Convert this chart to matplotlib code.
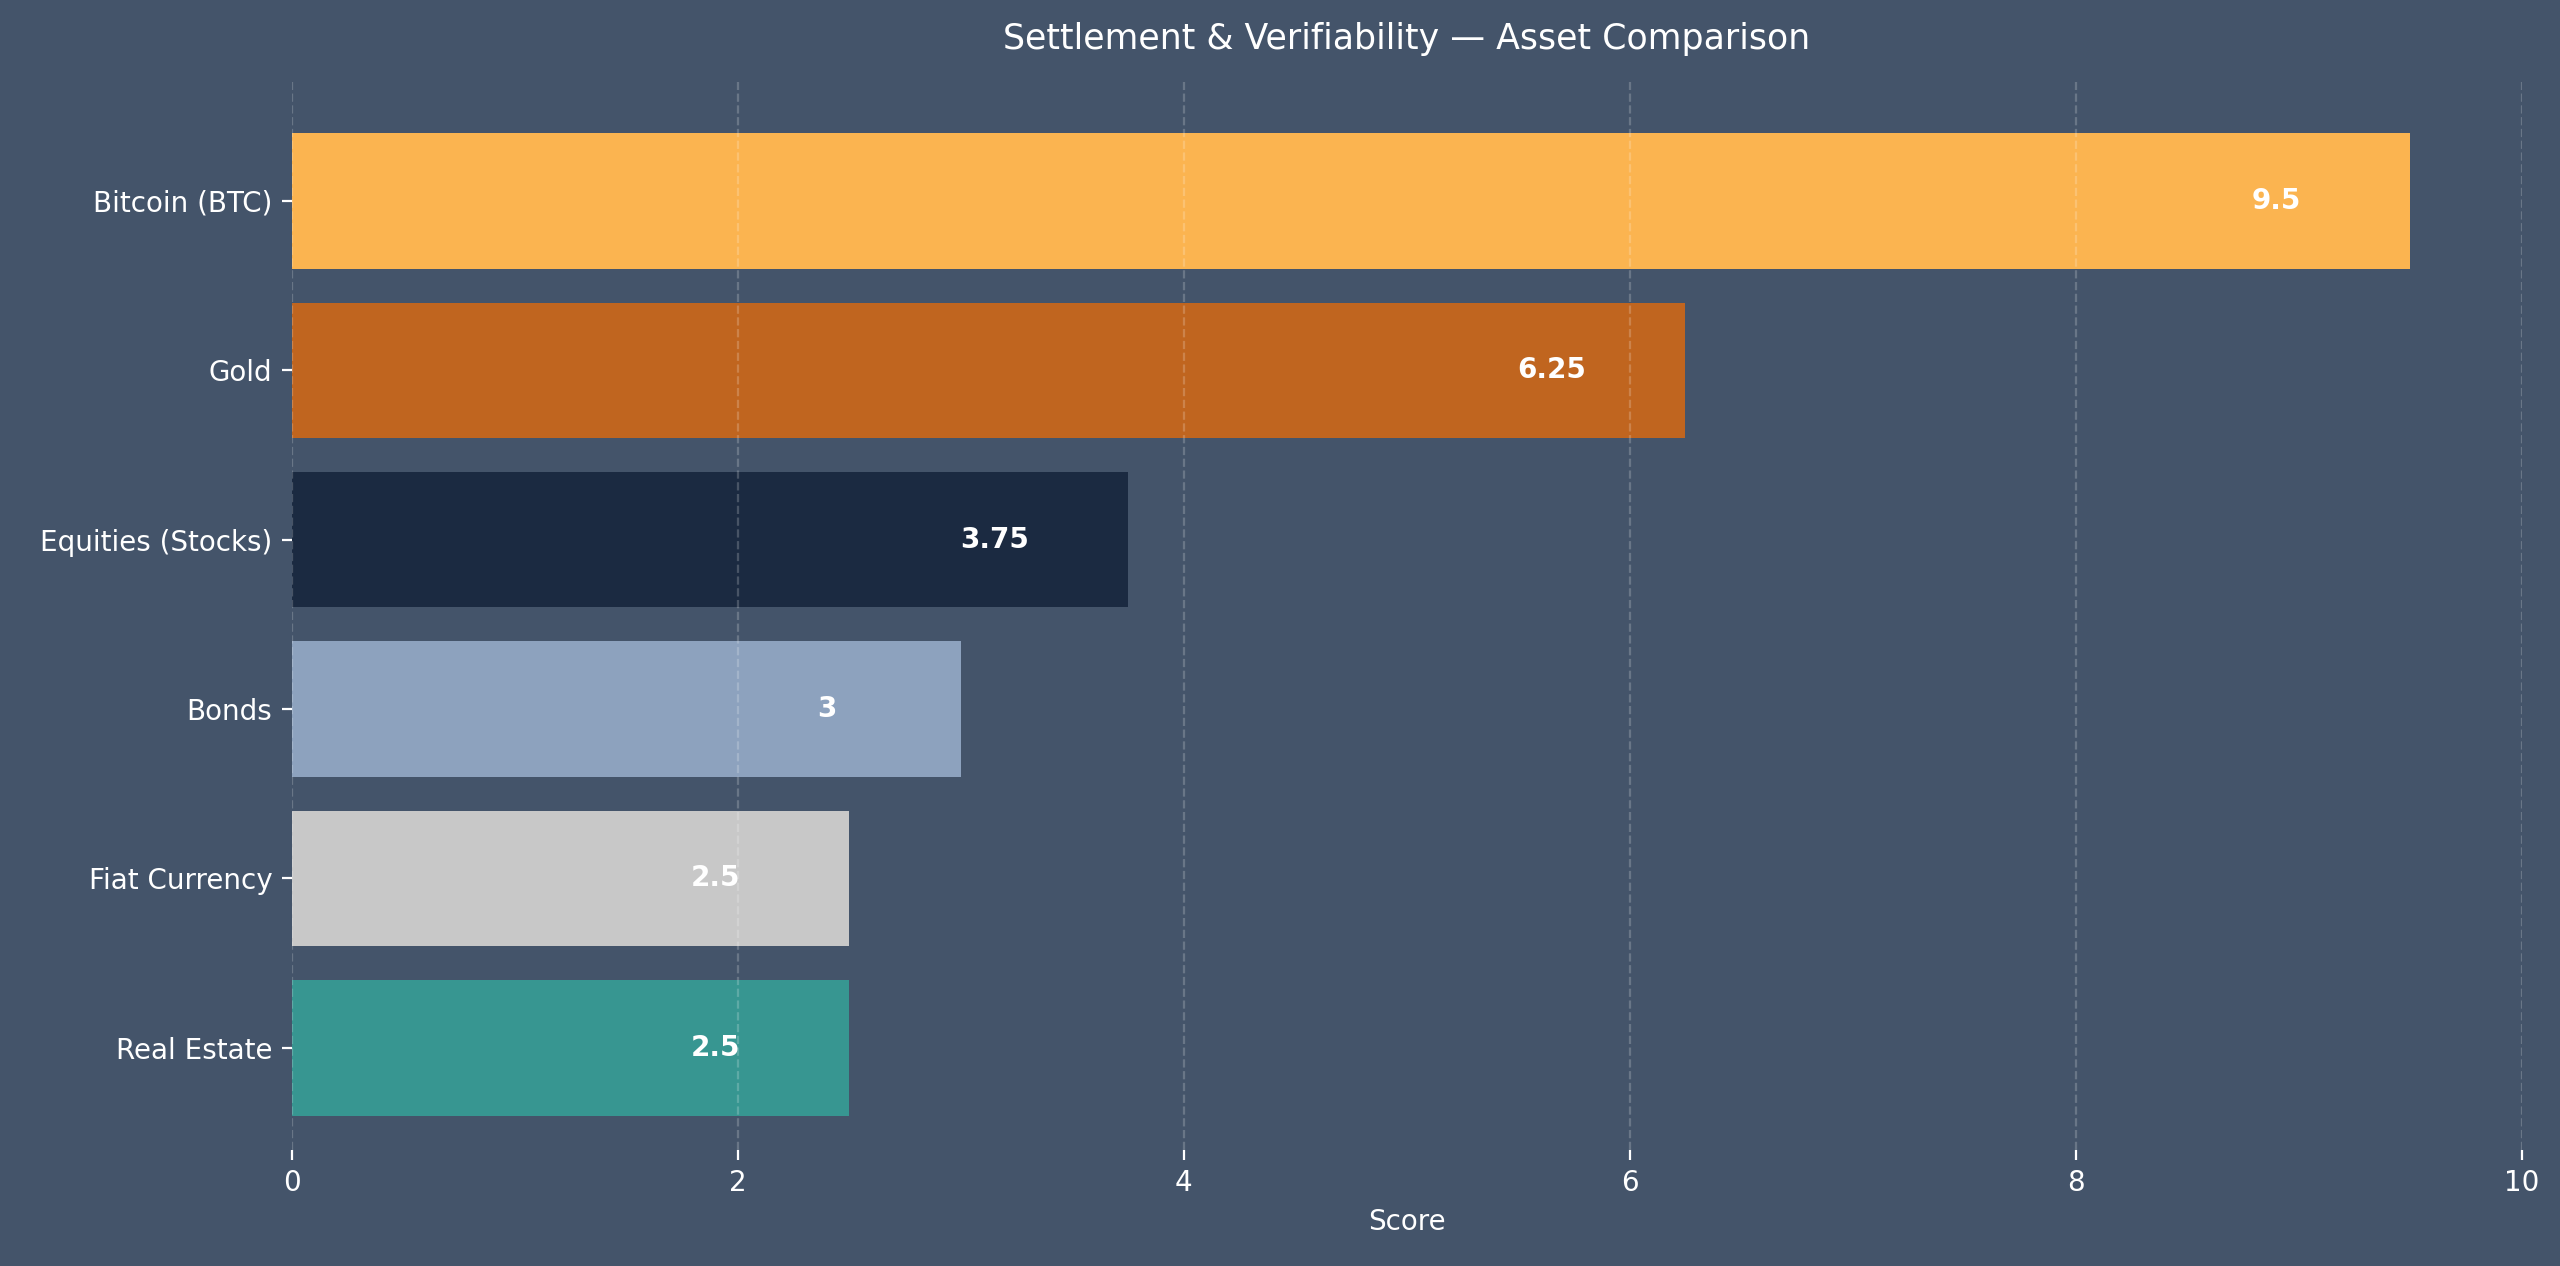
import matplotlib
matplotlib.use("Agg")
import matplotlib.pyplot as plt

categories = ["Bitcoin (BTC)", "Gold", "Equities (Stocks)", "Bonds", "Fiat Currency", "Real Estate"]
scores = [9.5, 6.25, 3.75, 3.0, 2.5, 2.5]
labels = ["9.5", "6.25", "3.75", "3", "2.5", "2.5"]
colors = ["#fbb450", "#c0651f", "#1b2a41", "#8da2be", "#c8c8c8", "#379691"]

bg = "#44546a"
fig = plt.figure(figsize=(12.8, 6.33), dpi=200, facecolor=bg)
ax = fig.add_axes([0.114, 0.092, 0.871, 0.843], facecolor=bg)
y = list(range(len(categories)))[::-1]
ax.barh(y, scores, color=colors, height=0.8, zorder=2)
for yi, v, t in zip(y, scores, labels):
    ax.text(v - 0.6, yi, t, ha="center", va="center", color="white", fontsize=10, fontweight="bold", zorder=4)
ax.set_yticks(y)
ax.set_yticklabels(categories)
ax.set_xlim(0, 10)
ax.set_ylim(-0.6, 5.7)
ax.set_xticks([0, 2, 4, 6, 8, 10])
ax.grid(axis="x", linestyle="--", color="white", alpha=0.2, linewidth=0.8, zorder=3)
ax.set_axisbelow(False)
for s in ax.spines.values():
    s.set_visible(False)
ax.tick_params(colors="white", labelsize=10)
ax.set_xlabel("Score", color="white", fontsize=10)
ax.set_title("Settlement & Verifiability — Asset Comparison", color="white", fontsize=12.5, pad=12)
fig.savefig("out.png", dpi=200, facecolor=bg)
